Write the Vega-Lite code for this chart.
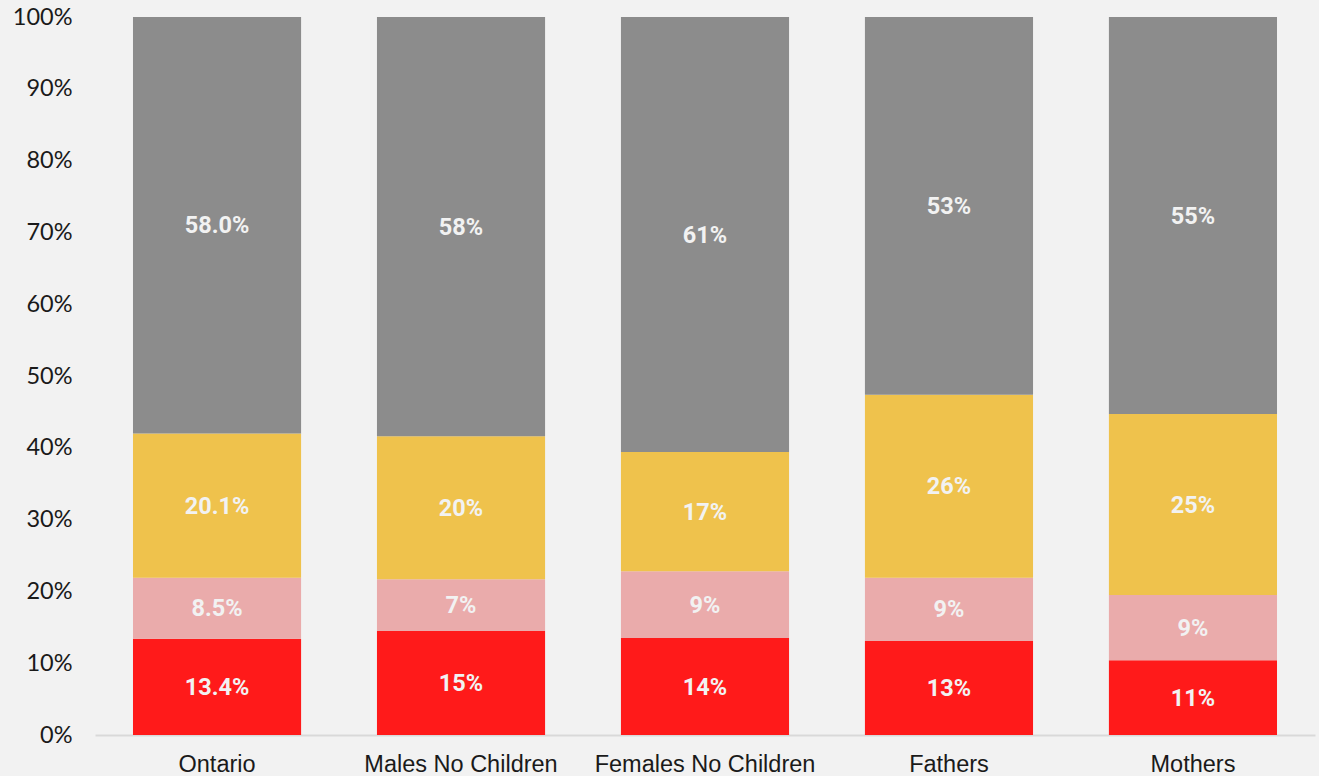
{
  "$schema": "https://vega.github.io/schema/vega-lite/v6.json",
  "autosize": "none",
  "width": 1220,
  "height": 718,
  "padding": {"left": 95, "top": 17, "right": 4, "bottom": 41},
  "background": "#f2f2f2",
  "config": {"view": {"stroke": null}},
  "data": {
    "values": [
      {"group": "Ontario", "cat": "a", "value": 13.4, "label": "13.4%"},
      {"group": "Ontario", "cat": "b", "value": 8.5, "label": "8.5%"},
      {"group": "Ontario", "cat": "c", "value": 20.1, "label": "20.1%"},
      {"group": "Ontario", "cat": "d", "value": 58.0, "label": "58.0%"},
      {"group": "Males No Children", "cat": "a", "value": 14.5, "label": "15%"},
      {"group": "Males No Children", "cat": "b", "value": 7.2, "label": "7%"},
      {"group": "Males No Children", "cat": "c", "value": 19.9, "label": "20%"},
      {"group": "Males No Children", "cat": "d", "value": 58.4, "label": "58%"},
      {"group": "Females No Children", "cat": "a", "value": 13.5, "label": "14%"},
      {"group": "Females No Children", "cat": "b", "value": 9.3, "label": "9%"},
      {"group": "Females No Children", "cat": "c", "value": 16.6, "label": "17%"},
      {"group": "Females No Children", "cat": "d", "value": 60.6, "label": "61%"},
      {"group": "Fathers", "cat": "a", "value": 13.1, "label": "13%"},
      {"group": "Fathers", "cat": "b", "value": 8.8, "label": "9%"},
      {"group": "Fathers", "cat": "c", "value": 25.5, "label": "26%"},
      {"group": "Fathers", "cat": "d", "value": 52.6, "label": "53%"},
      {"group": "Mothers", "cat": "a", "value": 10.4, "label": "11%"},
      {"group": "Mothers", "cat": "b", "value": 9.1, "label": "9%"},
      {"group": "Mothers", "cat": "c", "value": 25.2, "label": "25%"},
      {"group": "Mothers", "cat": "d", "value": 55.3, "label": "55%"}
    ]
  },
  "encoding": {
    "x": {
      "field": "group",
      "type": "nominal",
      "sort": null,
      "scale": {"paddingInner": 0.311, "paddingOuter": 0.1557},
      "axis": {
        "title": null,
        "labelAngle": 0,
        "labelFont": "Liberation Sans",
        "labelFontSize": 23.5,
        "labelColor": "#1a1a1a",
        "labelPadding": 17,
        "labelLimit": 400,
        "ticks": false,
        "domainColor": "#d9d9d9",
        "domainWidth": 2
      }
    },
    "y": {
      "field": "value",
      "type": "quantitative",
      "stack": "zero",
      "scale": {"domain": [0, 100], "nice": false},
      "axis": {
        "title": null,
        "values": [0, 10, 20, 30, 40, 50, 60, 70, 80, 90, 100],
        "labelExpr": "datum.value + '%'",
        "labelFont": "Lato",
        "labelFontSize": 23.5,
        "labelColor": "#1a1a1a",
        "labelPadding": 23,
        "ticks": false,
        "domain": false,
        "grid": false
      }
    },
    "order": {"field": "cat", "type": "ordinal"}
  },
  "layer": [
    {
      "mark": {"type": "bar"},
      "encoding": {
        "color": {
          "field": "cat",
          "type": "nominal",
          "scale": {"domain": ["a", "b", "c", "d"], "range": ["#ff1a1a", "#eaabab", "#efc24c", "#8c8c8c"]},
          "legend": null
        }
      }
    },
    {
      "mark": {"type": "text", "font": "Roboto", "fontWeight": "bold", "fontSize": 23.5, "color": "#f2f2f2", "baseline": "middle", "dy": 1},
      "encoding": {
        "y": {"field": "value", "type": "quantitative", "stack": "zero", "bandPosition": 0.5},
        "text": {"field": "label"}
      }
    }
  ]
}
